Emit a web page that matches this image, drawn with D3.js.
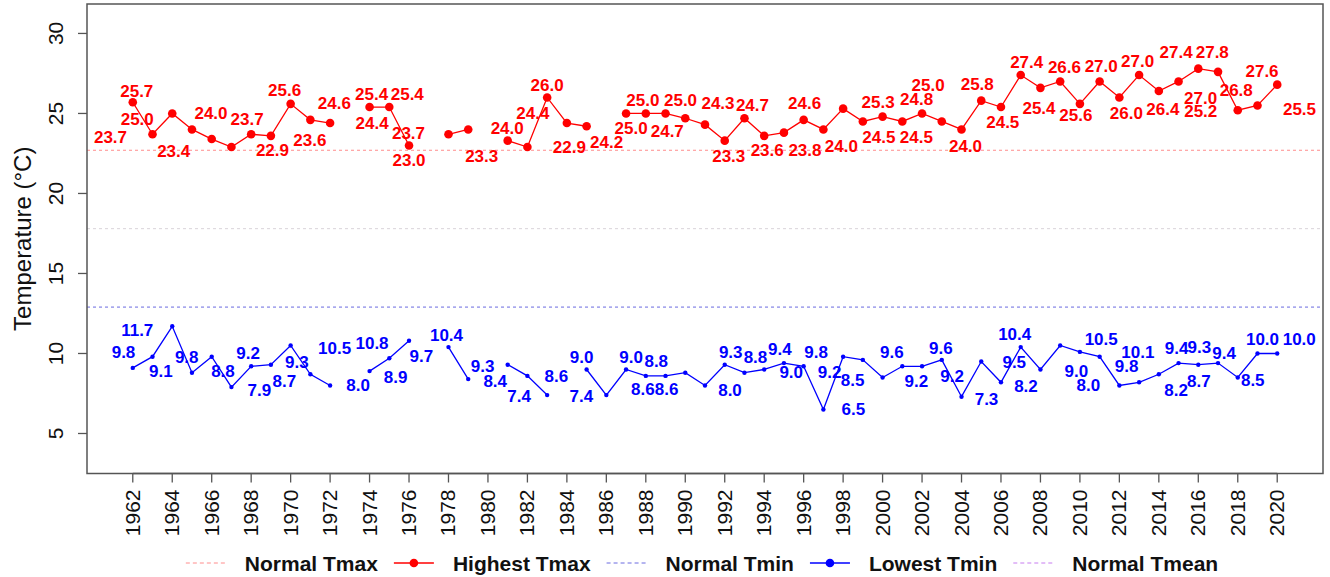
<!DOCTYPE html>
<html><head><meta charset="utf-8">
<script src="https://cdn.jsdelivr.net/npm/d3@7/dist/d3.min.js"></script>
<style>body{margin:0;background:#fff}svg{display:block}</style>
</head><body>
<svg id="chart" width="1330" height="577"></svg>
<script>
// ---------------- data ----------------
const years = [1962,1963,1964,1965,1966,1967,1968,1969,1970,1971,1972,1973,1974,1975,1976,1977,1978,1979,1980,
  1981,1982,1983,1984,1985,1986,1987,1988,1989,1990,1991,1992,1993,1994,1995,1996,1997,1998,1999,2000,
  2001,2002,2003,2004,2005,2006,2007,2008,2009,2010,2011,2012,2013,2014,2015,2016,2017,2018,2019,2020];
const highestTmax = [25.7,23.7,25.0,24.0,23.4,22.9,23.7,23.6,25.6,24.6,24.4,null,25.4,25.4,23.0,null,23.7,24.0,null,
  23.3,22.9,26.0,24.4,24.2,null,25.0,25.0,25.0,24.7,24.3,23.3,24.7,23.6,23.8,24.6,24.0,25.3,24.5,24.8,
  24.5,25.0,24.5,24.0,25.8,25.4,27.4,26.6,27.0,25.6,27.0,26.0,27.4,26.4,27.0,27.8,27.6,25.2,25.5,26.8];
const lowestTmin = [9.1,9.8,11.7,8.8,9.8,7.9,9.2,9.3,10.5,8.7,8.0,null,8.9,9.7,10.8,null,10.4,8.4,null,
  9.3,8.6,7.4,null,9.0,7.4,9.0,8.6,8.6,8.8,8.0,9.3,8.8,9.0,9.4,9.2,6.5,9.8,9.6,8.5,
  9.2,9.2,9.6,7.3,9.5,8.2,10.4,9.0,10.5,10.1,9.8,8.0,8.2,8.7,9.4,9.3,9.4,8.5,10.0,10.0];
const normalTmax = 22.7;
const normalTmean = 17.8;
const normalTmin = 12.9;
const yTicks = [5,10,15,20,25,30];
const xTicks = [1962,1964,1966,1968,1970,1972,1974,1976,1978,1980,1982,1984,1986,1988,1990,
  1992,1994,1996,1998,2000,2002,2004,2006,2008,2010,2012,2014,2016,2018,2020];
const legendLabels = ["Normal Tmax","Highest Tmax","Normal Tmin","Lowest Tmin","Normal Tmean"];

// label nudges (pixels, relative to point) reproducing the repelled label layout
const tmaxNudge = [[4,-11],[-42,3],[-35,6],[19,-16],[-38,12],[41,3],[-4,-15],[39,5],[-6,-13],[24,-16],[42,0],null,
  [2,-13],[18,-13],[0,15],null,[-40,-1],[39,-1],null,[-26,16],[42,0],[0,-12],[-34,-10],[20,16],null,
  [5,15],[-3,-13],[15,-13],[-18,13],[13,-21],[4,16],[8,-13],[3,15],[21,18],[1,-16],[18,17],[35,-6],[16,16],
  [34,-17],[14,16],[6,-28],[61,1],[4,17],[-4,-16],[38,1],[6,-13],[24,-20],[41,-15],[-4,12],[38,-20],[7,16],
  [37,-23],[4,18],[22,17],[14,-16],[44,0],[-37,1],[42,4],[-41,6]];
const tminNudge = [[28,4],[-29,-4],[-35,4],[31,-1],[-25,1],[28,3],[-3,-13],[26,-2],[44,3],[-26,7],[28,0],null,
  [26,6],[32,-2],[-37,3],null,[-2,-12],[27,2],null,[-25,2],[29,1],[-28,1],null,[-5,-12],[-25,1],
  [5,-12],[-3,14],[1,14],[-29,-11],[25,5],[6,-12],[11,-15],[27,3],[-4,-14],[26,6],[30,0],[-27,-4],[29,-7],
  [-30,3],[14,15],[30,10],[-1,-11],[25,3],[33,1],[25,4],[-6,-13],[36,2],[41,-6],[58,1],[27,10],[-31,0],
  [37,8],[40,7],[-2,-15],[1,-17],[6,-10],[15,3],[5,-14],[22,-14]];

// ---------------- layout ----------------
const FONT = "'Liberation Sans', Arial, Helvetica, sans-serif";
const svg = d3.select("#chart");
const plot = {left: 87, right: 1323, top: 4, bottom: 473.5};
const x = d3.scaleLinear().domain([1959.68, 2022.32]).range([plot.left, plot.right]);
const y = d3.scaleLinear().domain([2.5, 31.84]).range([plot.bottom, plot.top]);

const RED = "#ff0000", BLUE = "#0000ff";
const colNormMax = "#ff8c8c", colNormMin = "#6a6ae0", colNormMean = "#d9d3d9", colLegMean = "#c77cf0";

// reference lines
const refs = [
  {v: normalTmax, c: colNormMax},
  {v: normalTmean, c: colNormMean},
  {v: normalTmin, c: colNormMin}
];
svg.selectAll("line.ref").data(refs).enter().append("line")
  .attr("x1", plot.left).attr("x2", plot.right)
  .attr("y1", d => y(d.v)).attr("y2", d => y(d.v))
  .attr("stroke", d => d.c).attr("stroke-width", 1).attr("stroke-dasharray", "3,3");

// series
function series(vals, color, r, nudge) {
  const pts = years.map((yr, i) => ({yr, v: vals[i], n: nudge[i]}));
  const line = d3.line().defined(d => d.v != null).x(d => x(d.yr)).y(d => y(d.v));
  svg.append("path").attr("d", line(pts)).attr("fill", "none")
    .attr("stroke", color).attr("stroke-width", 1.3);
  const valid = pts.filter(d => d.v != null);
  svg.selectAll(null).data(valid).enter().append("circle")
    .attr("cx", d => x(d.yr)).attr("cy", d => y(d.v)).attr("r", r).attr("fill", color);
  svg.selectAll(null).data(valid).enter().append("text")
    .attr("x", d => x(d.yr) + d.n[0]).attr("y", d => y(d.v) + d.n[1])
    .attr("text-anchor", "middle").attr("dominant-baseline", "central")
    .attr("font-family", FONT).attr("font-weight", "bold").attr("font-size", 17)
    .attr("fill", color).text(d => d.v.toFixed(1));
}
series(highestTmax, RED, 4.3, tmaxNudge);
series(lowestTmin, BLUE, 2.2, tminNudge);

// frame
svg.append("rect").attr("x", plot.left).attr("y", plot.top)
  .attr("width", plot.right - plot.left).attr("height", plot.bottom - plot.top)
  .attr("fill", "none").attr("stroke", "#555").attr("stroke-width", 1.5);

// y axis
const gy = svg.append("g");
gy.selectAll("line").data(yTicks).enter().append("line")
  .attr("x1", plot.left - 9).attr("x2", plot.left).attr("y1", d => y(d)).attr("y2", d => y(d))
  .attr("stroke", "#555").attr("stroke-width", 1.3);
gy.selectAll("text").data(yTicks).enter().append("text")
  .attr("transform", d => `translate(63,${y(d)}) rotate(-90)`)
  .attr("text-anchor", "middle").attr("font-family", FONT).attr("font-size", 21).attr("fill", "#111")
  .text(d => d);
svg.append("text").attr("transform", `translate(31,${(plot.top + plot.bottom) / 2}) rotate(-90)`)
  .attr("text-anchor", "middle").attr("font-family", FONT).attr("font-size", 24).attr("fill", "#111")
  .text("Temperature (°C)");

// x axis
const gx = svg.append("g");
gx.append("line").attr("x1", x(xTicks[0])).attr("x2", x(xTicks[xTicks.length - 1]))
  .attr("y1", plot.bottom).attr("y2", plot.bottom).attr("stroke", "#555").attr("stroke-width", 1.3);
gx.selectAll("line.t").data(xTicks).enter().append("line")
  .attr("x1", d => x(d)).attr("x2", d => x(d)).attr("y1", plot.bottom).attr("y2", plot.bottom + 9)
  .attr("stroke", "#555").attr("stroke-width", 1.3);
gx.selectAll("text").data(xTicks).enter().append("text")
  .attr("transform", d => `translate(${x(d) + 7},${plot.bottom + 16}) rotate(-90)`)
  .attr("text-anchor", "end").attr("font-family", FONT).attr("font-size", 21).attr("fill", "#111")
  .text(d => d);

// legend
const legendItems = [
  {label: legendLabels[0], color: colNormMax, type: "dash"},
  {label: legendLabels[1], color: RED, type: "point", r: 4.3},
  {label: legendLabels[2], color: colNormMin, type: "dash"},
  {label: legendLabels[3], color: BLUE, type: "point", r: 4.3},
  {label: legendLabels[4], color: colLegMean, type: "dash"}
];
const LY = 563, SEG = 40, GAP1 = 19, GAP2 = 16, LFS = 21;
const lg = svg.append("g");
const widths = legendItems.map(it => {
  const t = lg.append("text").attr("font-family", FONT).attr("font-weight", "bold")
    .attr("font-size", LFS).text(it.label);
  const w = t.node().getComputedTextLength(); t.remove(); return w;
});
const total = d3.sum(widths) + legendItems.length * (SEG + GAP1) + (legendItems.length - 1) * GAP2;
let cx = (plot.left + plot.right) / 2 - total / 2 - 3;
legendItems.forEach((it, i) => {
  lg.append("line").attr("x1", cx).attr("x2", cx + SEG).attr("y1", LY).attr("y2", LY)
    .attr("stroke", it.color).attr("stroke-width", it.type === "dash" ? 1 : 1.3)
    .attr("stroke-dasharray", it.type === "dash" ? "4,3" : null);
  if (it.type === "point") lg.append("circle").attr("cx", cx + SEG / 2).attr("cy", LY).attr("r", it.r).attr("fill", it.color);
  lg.append("text").attr("x", cx + SEG + GAP1).attr("y", LY).attr("dominant-baseline", "central")
    .attr("font-family", FONT).attr("font-weight", "bold").attr("font-size", LFS).attr("fill", "#111")
    .text(it.label);
  cx += SEG + GAP1 + widths[i] + GAP2;
});
</script>
</body></html>
